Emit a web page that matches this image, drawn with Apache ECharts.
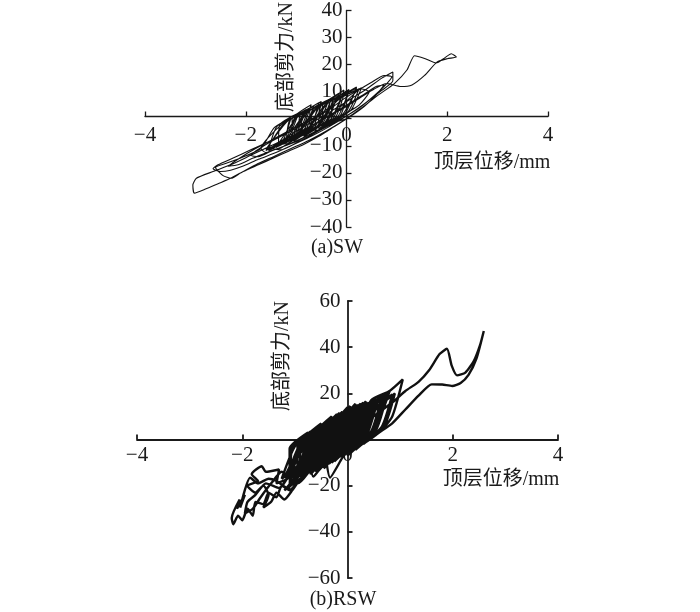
<!DOCTYPE html>
<html>
<head>
<meta charset="utf-8">
<script src="https://cdn.jsdelivr.net/npm/echarts@6/dist/echarts.min.js"></script>
<style>
html,body{margin:0;padding:0;background:#fff;}
#chart{width:700px;height:612px;}
</style>
</head>
<body>
<div id="chart"></div>
<script>
// ---- data ----
const xTicks = [-4, -2, 0, 2, 4];
const yTicksSW = [-40, -30, -20, -10, 0, 10, 20, 30, 40];
const yTicksRSW = [-60, -40, -20, 0, 20, 40, 60];
const xTitle = '顶层位移/mm';
const yTitle = '底部剪力/kN';
const captions = ['(a)SW', '(b)RSW'];

// SW: [top displacement (mm), base shear (kN)] in drawing order
const swLoop = [
[0,0],
[-0.4,-2.3],[-0.02,2.2],[0.2,11.7],[-0.18,7.2],
[-0.55,-3],[-0.22,0.5],[-0.05,9],[-0.38,5.5],
[-0.85,-6.6],[-0.42,-1.1],[-0.15,9.4],[-0.58,3.9],
[-1.0,-7.3],[-0.62,-2.8],[-0.4,6.7],[-0.78,2.2],
[-1.15,-8],[-0.82,-4.5],[-0.65,4],[-0.98,0.5],
[-1.4,-10.6],[-1.02,-6.1],[-0.8,3.4],[-1.18,-1.1],
[-1.6,-11.3],[-1.22,-7.8],[-1.0,0.7],[-1.38,-2.8],
[-1.55,-11.5],[-1.12,-7],[-0.85,2.5],[-1.28,-2],
[-1.7,-11],[-1.6,-12.5],[-1.3,-10.5],[-0.95,-8],[-0.65,-5],[-0.35,-2],[-0.05,1.5],[0.25,5],[0.45,10],[0.3,11],[0,8],[-0.3,4],[-0.65,0],[-0.95,-3],[-1.25,-6],[-1.6,-9.5],[-1.9,-13.5],[-1.75,-14],[-1.45,-11.5],
[-1.3,-10.8],[-0.92,-5.3],[-0.7,5.2],[-1.08,-0.3],
[-1.05,-8.1],[-0.72,-3.6],[-0.55,5.9],[-0.88,1.4],
[-0.9,-6.5],[-0.52,-2],[-0.3,7.5],[-0.68,3],
[-0.7,-3.8],[-0.32,-0.3],[-0.1,8.2],[-0.48,4.7],
[-0.45,-3.2],[-0.12,1.3],[0.05,10.8],[-0.28,6.3],
[-0.3,-0.5],[0.08,3],[0.3,11.5],[-0.08,8],
[-0.5,2],[-0.85,-1.5],[-1.2,-5],[-1.55,-8.5],[-1.9,-12],[-2.2,-15.5],[-2.35,-17.5],[-2.15,-17],[-1.85,-14.5],[-1.5,-12],[-1.15,-9.5],[-0.8,-6.5],[-0.45,-3.5],[-0.1,0],[0.25,4],[0.55,8.5],[0.8,13],[0.9,15.5],[0.75,16],[0.5,13.5],[0.2,10],
[-0.5,-2.7],[-0.07,1.8],[0.2,11.3],[-0.23,6.8],
[-0.65,-5.4],[-0.27,0.1],[-0.05,10.6],[-0.43,5.1],
[-0.85,-6.1],[-0.47,-1.6],[-0.25,7.9],[-0.63,3.4],
[-1.0,-6.7],[-0.67,-3.2],[-0.5,5.3],[-0.83,1.8],
[-1.25,-9.4],[-0.87,-4.9],[-0.65,4.6],[-1.03,0.1],
[-1.15,-4.5],[-1.5,-8],[-1.9,-11.5],[-2.25,-14.5],[-2.55,-17],[-2.65,-18.5],[-2.5,-19.5],[-2.3,-19],[-2.05,-17.5],[-1.75,-15],[-1.4,-12.5],[-1.05,-9.5],[-0.7,-6.5],[-0.35,-3],[0,1],[0.35,5.5],[0.7,10.5],[0.92,14],[0.92,17.3],[0.7,15],[0.4,11],[0.1,7.5],[-0.2,4],[-0.55,0],[-0.9,-3.5],
[-1.45,-10],[-1.07,-6.5],[-0.85,2],[-1.23,-1.5],
[-1.6,-11.7],[-1.27,-8.2],[-1.1,0.3],[-1.43,-3.2],
[-1.7,-11],[-2.1,-14.5],[-2.4,-16.5],[-2.6,-18],[-2.45,-21],[-2.29,-22],[-2.1,-20],[-1.8,-17],[-1.45,-14],[-1.1,-11],[-0.75,-8],[-0.4,-4.5],[-0.05,-0.5],[0.3,4],[0.65,9],[0.95,13],[1.2,18],[1.35,23.3],[1.55,22.3],[1.78,20.6],[1.95,22.5],[2.08,24],[2.18,22.8],[2.0,22.2],[1.8,21],[1.55,16],[1.3,12.5],[1.08,11.9],[0.8,13],[0.55,11],[0.25,7.5],[-0.05,4],[-0.4,0.5],[-0.75,-3],[-1.1,-6.5],[-1.5,-10],[-1.9,-13.5],[-2.3,-17],[-2.65,-19.5],[-2.98,-22],[-3.05,-24.5],[-3.02,-27.5],[-2.8,-26],[-2.55,-24],[-2.3,-22],[-2.05,-19.5],[-1.75,-17],[-1.45,-14.5],[-1.15,-12],[-0.85,-9.5],[-0.55,-6.5],[-0.25,-3],[0.05,0.5],[0.35,4.5],[0.6,9],[0.75,12.5],[0.6,12],[0.3,8.5],[0,5],
[-1.55,-11.9],[-1.17,-7.4],[-0.95,2.1],[-1.33,-2.4],
[-1.35,-10.2],[-0.97,-5.7],[-0.75,3.8],[-1.13,-0.7],
[-1.2,-9.6],[-0.77,-4.1],[-0.5,6.4],[-0.93,0.9],
[-0.95,-6.9],[-0.57,-2.4],[-0.35,7.1],[-0.73,2.6],
[-0.7,-4.2],[-0.37,-0.7],[-0.2,7.8],[-0.53,4.3],
[-0.55,-3.6],[-0.17,0.9],[0.05,10.4],[-0.33,5.9],
[-0.35,-0.9],[0.03,2.6],[0.25,11.1],[-0.13,7.6],
[-0.6,-2],[-0.9,-5],[-1.2,-8],[-1.45,-11],[-1.3,-11.5],[-1.0,-9],[-0.7,-6],[-0.4,-3],[-0.1,0.5],[0.15,4]
];

// RSW: [top displacement (mm), base shear (kN)] in drawing order
const rswLoop = [
[0,0],
[-0.3,-9],[0.1,0],[0.3,15],[-0.1,6],
[-0.4,-11],[0,-1],[0.2,15],[-0.2,5],
[-0.45,-11],[-0.1,-2],[0.05,13],[-0.3,4],
[-0.6,-14],[-0.2,-3],[0,14],[-0.4,3],
[-0.7,-14],[-0.3,-4],[-0.1,12],[-0.5,2],
[-0.8,-15],[-0.4,-5],[-0.2,11],[-0.6,1],
[-0.9,-15],[-0.5,-6],[-0.3,9],[-0.7,0],
[-1.0,-16],[-0.6,-7],[-0.4,8],[-0.8,-1],
[-1.1,-16],[-0.7,-8],[-0.5,6],[-0.9,-2],
[-1.15,-16],[-0.8,-9],[-0.65,4],[-1.0,-3],
[-1.25,-17],[-0.9,-10],[-0.75,3],[-1.1,-4],
[-1.1,-16],[-1.35,-19],[-1.3,-13],[-1.55,-14],[-1.63,-11.6],[-1.82,-15],[-1.7,-18],[-1.9,-20],[-1.75,-23],[-1.6,-20],[-1.5,-24],[-1.6,-29.5],[-1.45,-27],[-1.35,-23],[-1.2,-26],[-1.05,-22],[-0.9,-17],
[-1.2,-22],[-0.85,-12],[-0.75,0],[-1.0,-8],
[-1.15,-16.5],[-0.75,-8.5],[-0.55,5.5],[-0.95,-2.5],
[-0.95,-15.5],[-0.55,-6.5],[-0.35,8.5],[-0.75,-0.5],
[-0.75,-14.5],[-0.35,-4.5],[-0.15,11.5],[-0.55,1.5],
[-0.55,-13.5],[-0.15,-2.5],[0.05,14.5],[-0.35,3.5],
[-0.35,-10.5],[0.05,-0.5],[0.25,15.5],[-0.15,5.5],
[-0.15,-7.5],[0.25,1.5],[0.45,16.5],[0.05,7.5],
[0.05,-5.5],[0.45,3.5],[0.65,18.5],[0.25,9.5],
[0.25,-2.5],[0.65,5.5],[0.85,19.5],[0.45,11.5],
[0.3,-2],[0.7,6],[0.9,20],[0.5,12],
[0.15,-4.5],[0.55,4.5],[0.75,19.5],[0.35,10.5],
[0.3,-1],[0.6,3],[0.85,10],[1.05,26],[0.8,21],[0.45,17],
[-0.05,-6.5],[0.35,2.5],[0.55,17.5],[0.15,8.5],
[-0.25,-9.5],[0.15,0.5],[0.35,16.5],[-0.05,6.5],
[-0.45,-12.5],[-0.05,-1.5],[0.15,15.5],[-0.25,4.5],
[-0.65,-13.5],[-0.25,-3.5],[-0.05,12.5],[-0.45,2.5],
[-0.33,-16.5],[-0.1,-8],[0.05,-3],[-0.2,-2],
[-0.85,-14.5],[-0.45,-5.5],[-0.25,9.5],[-0.65,0.5],
[-1.05,-15.5],[-0.65,-7.5],[-0.45,6.5],[-0.85,-1.5],
[-1.2,-16.5],[-0.85,-9.5],[-0.7,3.5],[-1.05,-3.5],
[-1.12,-21.6],[-1.35,-18],[-1.5,-17],[-1.7,-19],[-1.85,-16.5],[-2.04,-29.5],[-1.95,-24],[-2.1,-30],[-2.05,-26],[-2.2,-34],[-2.17,-36.7],[-2.08,-33],[-2.0,-35],[-1.9,-30],[-1.8,-33],[-1.75,-27],[-1.6,-28],[-1.5,-23],[-1.35,-25],[-1.25,-20],[-1.1,-22],[-0.9,-17],[-0.75,-14],[-0.45,-10],[-0.15,-6],[0.1,-2.5],[0.35,-1],[0.6,3],[0.85,7],[1.1,13],[1.35,19],[1.6,23.9],[1.8,23.8],[1.99,23.2],[2.15,24.5],[2.3,28],[2.45,35],[2.59,47],[2.52,41],[2.4,34],[2.24,29],[2.08,27.8],[1.98,32],[1.89,39.3],[1.75,37],[1.55,30],[1.35,25],[1.1,21],[0.85,16],
[-1.1,-17],[-0.7,-8],[-0.5,7],[-0.9,-2],
[-0.9,-16],[-0.5,-6],[-0.3,10],[-0.7,0],
[-0.7,-15],[-0.3,-4],[-0.1,12],[-0.5,2],
[-1.1,-20],[-0.75,-11],[-0.6,2],[-0.9,-6],
[-1.3,-21],[-1.55,-19],[-1.75,-24],[-1.9,-27],[-1.95,-32],[-1.8,-30],[-1.65,-25],[-1.45,-19],[-1.25,-14],
[-0.95,-19],[-0.6,-9],[-0.45,5],[-0.75,-4],
[-0.65,-16],[-0.4,-8],[-0.2,6],[-0.5,-3],
[-0.5,-12],[-0.1,-2],[0.1,14],[-0.3,4],
[-0.3,-10],[0.1,0],[0.3,16],[-0.1,6],
[-0.1,-6],[0.3,2],[0.5,17],[0.1,8],
[0.2,-3],[0.55,6],[0.8,21],[0.4,13],
[0,-7],[0.35,1],[0.6,19],[0.2,11],
[0.1,-4],[0.5,4],[0.7,19],[0.3,10],
[-0.2,-8],[0.2,1],[0.4,16],[0,7],
[-0.4,-11],[-0.6,-9],[-0.3,-2],[-0.2,3]
];

// ---- chart ----
const FONT = '"Liberation Serif","Noto Sans CJK SC",serif';
const INK = '#1a1a1a';
const minus = v => String(v).replace('-', '\u2212');
const grids = [
  { left: 145, top: 6, width: 403, height: 221 },
  { left: 137, top: 301, width: 421, height: 277 }
];

function xAxisFor(gi, margin, lw) {
  const g = grids[gi];
  return {
    type: 'value', gridIndex: gi, position: 'bottom',
    offset: -g.height / 2,
    min: xTicks[0], max: xTicks[xTicks.length - 1], interval: 2,
    axisLine: { onZero: false, lineStyle: { color: INK, width: lw } },
    axisTick: { inside: true, length: 5, lineStyle: { color: INK, width: lw } },
    axisLabel: { color: INK, fontSize: 21, fontFamily: FONT, margin: margin, formatter: minus },
    splitLine: { show: false }
  };
}
function yAxisFor(gi, ticks, margin, lw) {
  const g = grids[gi];
  return {
    type: 'value', gridIndex: gi, position: 'left',
    offset: -g.width / 2,
    min: ticks[0], max: ticks[ticks.length - 1], interval: ticks[1] - ticks[0],
    axisLine: { onZero: false, lineStyle: { color: INK, width: lw } },
    axisTick: { inside: true, length: 5, lineStyle: { color: INK, width: lw } },
    axisLabel: { color: INK, fontSize: 21, fontFamily: FONT, margin: margin,
      formatter: v => (v === 0 ? '' : minus(v)) },
    splitLine: { show: false }
  };
}
function txt(x, y, text, rot) {
  return {
    type: 'text', x: x, y: y, rotation: rot || 0, z: 10,
    style: { text: text, fill: INK, fontSize: 20, fontFamily: FONT,
      align: 'center', verticalAlign: 'middle', textAlign: 'center', textVerticalAlign: 'middle' }
  };
}

const chart = echarts.init(document.getElementById('chart'), null, { renderer: 'canvas' });
chart.setOption({
  animation: false,
  backgroundColor: '#ffffff',
  grid: grids,
  xAxis: [xAxisFor(0, 8, 1.3), xAxisFor(1, 5, 1.8)],
  yAxis: [yAxisFor(0, yTicksSW, 4, 1.3), yAxisFor(1, yTicksRSW, 7, 1.8)],
  series: [
    { type: 'line', xAxisIndex: 0, yAxisIndex: 0, data: swLoop, showSymbol: false, smooth: 0.2,
      lineStyle: { color: '#111', width: 1.1 } },
    { type: 'line', xAxisIndex: 1, yAxisIndex: 1, data: rswLoop, showSymbol: false, smooth: 0.2,
      lineStyle: { color: '#111', width: 2.4 } }
  ],
  graphic: [
    txt(492, 163, xTitle),
    txt(287, 57, yTitle, Math.PI / 2),
    txt(337, 248, captions[0]),
    txt(501, 480, xTitle),
    txt(283, 356, yTitle, Math.PI / 2),
    txt(343, 600, captions[1])
  ]
});
</script>
</body>
</html>
